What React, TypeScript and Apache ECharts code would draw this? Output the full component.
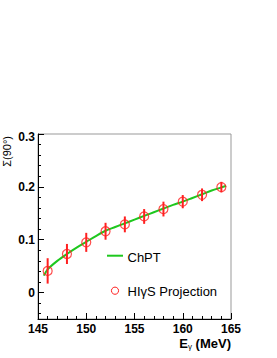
import React, { useEffect, useRef } from "react";
import * as echarts from "echarts";

const energies = [146, 148, 150, 152, 154, 156, 158, 160, 162, 164];
const sigma = [0.041, 0.073, 0.095, 0.116, 0.129, 0.144, 0.158, 0.172, 0.185, 0.1995];
const sigmaErr = [0.024, 0.019, 0.018, 0.016, 0.015, 0.014, 0.014, 0.0125, 0.012, 0.01];
const chptE = [145.6, 146, 147, 148, 149, 150, 151, 152, 153, 154, 155, 156, 157, 158, 159, 160, 161, 162, 163, 164, 164.5];
const chptSigma = [0.032, 0.044, 0.06, 0.073, 0.085, 0.096, 0.107, 0.117, 0.124, 0.131, 0.138, 0.145, 0.152, 0.159, 0.166, 0.172, 0.179, 0.186, 0.193, 0.199, 0.202];
const yTicks = [0, 0.1, 0.2, 0.3];
const yMinorTicks = [-0.04, -0.02, 0.02, 0.04, 0.06, 0.08, 0.12, 0.14, 0.16, 0.18, 0.22, 0.24, 0.26, 0.28];
const legendNames = ["ChPT", "HIγS Projection"];

const FONT = "'Liberation Sans', Arial, Helvetica, sans-serif";
const RED = "#ff2020";
const GREEN = "#1ec81e";

export default function App() {
  const ref = useRef<HTMLDivElement>(null);
  useEffect(() => {
    if (!ref.current) return;
    const chart = echarts.init(ref.current, null, { renderer: "svg" });
    chart.setOption({
      animation: false,
      backgroundColor: "#ffffff",
      grid: {
        left: 38,
        right: 46,
        top: 134,
        bottom: 39,
        show: true,
        borderColor: "#999",
        borderWidth: 1,
      },
      xAxis: {
        type: "value",
        min: 145,
        max: 165,
        interval: 5,
        axisLine: { onZero: false, lineStyle: { color: "#000", width: 1 } },
        axisTick: { inside: true, length: 6, lineStyle: { color: "#000" } },
        minorTick: { show: true, splitNumber: 5, length: 3, lineStyle: { color: "#000" } },
        splitLine: { show: false },
        minorSplitLine: { show: false },
        axisLabel: { color: "#000", fontFamily: FONT, fontWeight: "bold", fontSize: 12, margin: 4 },
      },
      yAxis: [
        {
          type: "value",
          min: -0.05,
          max: 0.3,
          axisLine: { onZero: false, lineStyle: { color: "#000", width: 1 } },
          axisTick: { inside: true, length: 6, customValues: yTicks, lineStyle: { color: "#000" } },
          splitLine: { show: false },
          axisLabel: {
            customValues: yTicks,
            color: "#000",
            fontFamily: FONT,
            fontWeight: "bold",
            fontSize: 12,
            margin: 3,
            formatter: (v: number) => (v === 0 ? "0" : v > 0.25 ? "{t|" + v.toFixed(1) + "}" : v.toFixed(1)),
            rich: { t: { fontFamily: FONT, fontWeight: "bold", fontSize: 12, color: "#000", padding: [6, 0, 0, 0] } },
          },
        },
        {
          type: "value",
          min: -0.05,
          max: 0.3,
          position: "left",
          axisLine: { show: false, onZero: false },
          axisTick: { show: true, inside: true, length: 3, customValues: yMinorTicks, lineStyle: { color: "#000" } },
          axisLabel: { show: false },
          splitLine: { show: false },
        },
      ],
      series: [
        {
          name: legendNames[0],
          type: "line",
          data: chptE.map((e, i) => [e, chptSigma[i]]),
          symbol: "none",
          smooth: 0.3,
          lineStyle: { color: GREEN, width: 2 },
          itemStyle: { color: GREEN },
          z: 3,
        },
        {
          name: legendNames[1],
          type: "scatter",
          data: energies.map((e, i) => [e, sigma[i]]),
          symbol: "circle",
          symbolSize: 9,
          itemStyle: { color: "rgba(0,0,0,0)", borderColor: RED, borderWidth: 1.2 },
          z: 4,
        },
        {
          name: "errors",
          type: "custom",
          data: energies.map((e, i) => [e, sigma[i] - sigmaErr[i], sigma[i] + sigmaErr[i]]),
          renderItem: (params: any, api: any) => {
            const lo = api.coord([api.value(0), api.value(1)]);
            const hi = api.coord([api.value(0), api.value(2)]);
            return {
              type: "line",
              shape: { x1: lo[0], y1: lo[1], x2: hi[0], y2: hi[1] },
              style: { stroke: RED, lineWidth: 2 },
            };
          },
          z: 5,
          silent: true,
        },
      ],
      graphic: [
        {
          type: "line",
          shape: { x1: 107, y1: 255.7, x2: 123, y2: 255.7 },
          style: { stroke: GREEN, lineWidth: 2 },
        },
        {
          type: "text",
          x: 127.5,
          y: 257,
          style: { text: legendNames[0], fontFamily: FONT, fontSize: 13, fill: "#000", textVerticalAlign: "middle" },
        },
        {
          type: "circle",
          shape: { cx: 115, cy: 290.7, r: 3.6 },
          style: { stroke: RED, fill: "none", lineWidth: 1 },
        },
        {
          type: "text",
          x: 127.5,
          y: 291,
          style: { text: legendNames[1], fontFamily: FONT, fontSize: 13, fill: "#000", textVerticalAlign: "middle" },
        },
        {
          type: "text",
          x: 7,
          y: 136,
          rotation: Math.PI / 2,
          style: {
            text: "Σ(90°)",
            fontFamily: FONT,
            fontSize: 11,
            fill: "#000",
            textAlign: "right",
            textVerticalAlign: "middle",
          },
        },
        {
          type: "text",
          x: 231,
          y: 343,
          style: {
            text: "{b|E}{s|γ}{b| (MeV)}",
            textAlign: "right",
            textVerticalAlign: "middle",
            rich: {
              b: { fontFamily: FONT, fontWeight: "bold", fontSize: 13, lineHeight: 14, fill: "#000" },
              s: { fontFamily: FONT, fontSize: 8, lineHeight: 8, fill: "#000", verticalAlign: "bottom" },
            },
          },
        },
      ],
    });
    return () => chart.dispose();
  }, []);
  return <div ref={ref} style={{ position: "fixed", left: 0, top: 0, width: 277, height: 358 }} />;
}
